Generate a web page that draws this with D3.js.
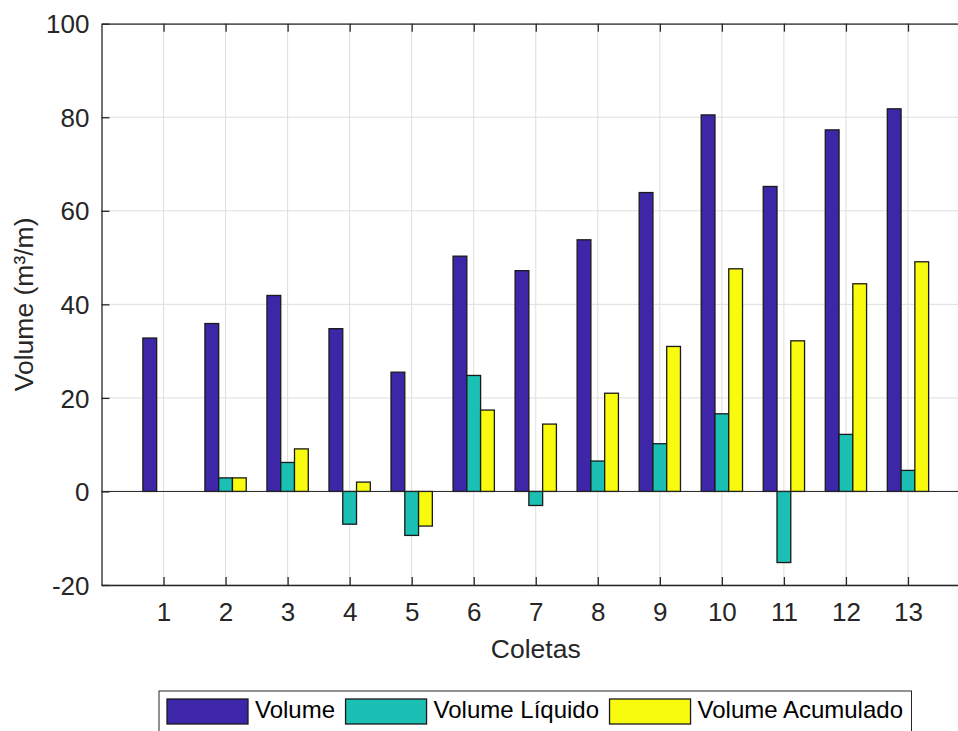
<!DOCTYPE html>
<html>
<head>
<meta charset="utf-8">
<script src="https://cdn.jsdelivr.net/npm/d3@7"></script>
<style>
  body { margin: 0; background: #fff; }
  svg { display: block; font-family: "Liberation Sans", Arial, Helvetica, sans-serif; }
</style>
</head>
<body>
<div id="chart"></div>
<script>
// data
var coletas = [1, 2, 3, 4, 5, 6, 7, 8, 9, 10, 11, 12, 13];
var volume = [32.8, 35.9, 41.9, 34.8, 25.5, 50.3, 47.2, 53.8, 63.9, 80.5, 65.2, 77.3, 81.8];
var volumeLiquido = [0, 2.9, 6.2, -7.0, -9.4, 24.8, -3.0, 6.5, 10.2, 16.6, -15.2, 12.2, 4.5];
var volumeAcumulado = [0, 2.9, 9.1, 2.0, -7.4, 17.4, 14.4, 21.0, 31.0, 47.6, 32.2, 44.4, 49.1];
var seriesNames = ["Volume", "Volume Líquido", "Volume Acumulado"];
var seriesColors = ["#3e26a8", "#1bbfb3", "#f9fb0e"];
var yTicks = [-20, 0, 20, 40, 60, 80, 100];

var W = 958, H = 731;
var plot = {left: 101.5, right: 970, top: 23.7, bottom: 585};

var svg = d3.select("#chart").append("svg")
  .attr("width", W)
  .attr("height", H);

var x = d3.scaleLinear().domain([0, 14]).range([plot.left, plot.right]);
var y = d3.scaleLinear().domain([-20, 100]).range([plot.bottom, plot.top]);

var axisColor = "#262626";
var gridColor = "#dedede";

// grid
svg.append("g")
  .selectAll("line.vgrid")
  .data(coletas)
  .enter().append("line")
    .attr("x1", d => x(d)).attr("x2", d => x(d))
    .attr("y1", plot.top).attr("y2", plot.bottom)
    .attr("stroke", gridColor).attr("stroke-width", 1);

svg.append("g")
  .selectAll("line.hgrid")
  .data(yTicks)
  .enter().append("line")
    .attr("x1", plot.left).attr("x2", plot.right)
    .attr("y1", d => y(d)).attr("y2", d => y(d))
    .attr("stroke", gridColor).attr("stroke-width", 1);

// bars
var series = [volume, volumeLiquido, volumeAcumulado];
var step = 0.222;
series.forEach(function(vals, s) {
  var off = (s - 1) * step;
  svg.append("g")
    .selectAll("rect")
    .data(vals)
    .enter().append("rect")
      .attr("x", (d, i) => x(coletas[i] + off - step / 2))
      .attr("width", x(step) - x(0))
      .attr("y", d => y(Math.max(0, d)))
      .attr("height", d => Math.abs(y(d) - y(0)))
      .attr("fill", seriesColors[s])
      .attr("stroke", "#1a1a1a")
      .attr("stroke-width", 1.3);
});

// baseline at zero
svg.append("line")
  .attr("x1", plot.left).attr("x2", plot.right)
  .attr("y1", y(0)).attr("y2", y(0))
  .attr("stroke", axisColor).attr("stroke-width", 1);

// axes (box with inward ticks)
var tickLen = 8;
var xAxisB = d3.axisBottom(x).tickValues(coletas).tickSize(-tickLen).tickPadding(18).tickSizeOuter(0);
var xAxisT = d3.axisTop(x).tickValues(coletas).tickSize(-tickLen).tickFormat("").tickSizeOuter(0);
var yAxisL = d3.axisLeft(y).tickValues(yTicks).tickSize(-tickLen).tickPadding(12).tickSizeOuter(0)
  .tickFormat(d => String(d));

var gx = svg.append("g").attr("transform", "translate(0," + plot.bottom + ")").call(xAxisB);
var gxt = svg.append("g").attr("transform", "translate(0," + plot.top + ")").call(xAxisT);
var gy = svg.append("g").attr("transform", "translate(" + plot.left + ",0)").call(yAxisL);

[gx, gxt, gy].forEach(function(g) {
  g.select(".domain").attr("stroke", axisColor).attr("stroke-width", 1.3);
  g.selectAll(".tick line").attr("stroke", axisColor).attr("stroke-width", 1.3);
  g.selectAll(".tick text")
    .attr("fill", axisColor)
    .style("font-size", "26px")
    .style("font-family", "'Liberation Sans', Arial, sans-serif");
});
gy.selectAll(".tick text").attr("dy", "0.35em");

// axis labels
svg.append("text")
  .attr("x", (plot.left + plot.right) / 2)
  .attr("y", 658)
  .attr("text-anchor", "middle")
  .attr("fill", axisColor)
  .style("font-size", "26.5px")
  .text("Coletas");

svg.append("text")
  .attr("transform", "translate(33," + ((plot.top + plot.bottom) / 2) + ") rotate(-90)")
  .attr("text-anchor", "middle")
  .attr("fill", axisColor)
  .style("font-size", "26.5px")
  .text("Volume (m³/m)");

// legend
var leg = svg.append("g").attr("transform", "translate(159,691)");
var legBox = leg.append("rect")
  .attr("x", 0).attr("y", 0)
  .attr("height", 60)
  .attr("fill", "#fff")
  .attr("stroke", "#262626")
  .attr("stroke-width", 1);

var cx = 8;
seriesNames.forEach(function(name, i) {
  leg.append("rect")
    .attr("x", cx).attr("y", 8)
    .attr("width", 81).attr("height", 25)
    .attr("fill", seriesColors[i])
    .attr("stroke", "#1a1a1a")
    .attr("stroke-width", 1.3);
  cx += 81 + 7;
  var t = leg.append("text")
    .attr("x", cx).attr("y", 27)
    .attr("fill", "#000")
    .style("font-size", "24px")
    .text(name);
  cx += t.node().getComputedTextLength() + 10.5;
});
legBox.attr("width", cx - 2);
</script>
</body>
</html>
